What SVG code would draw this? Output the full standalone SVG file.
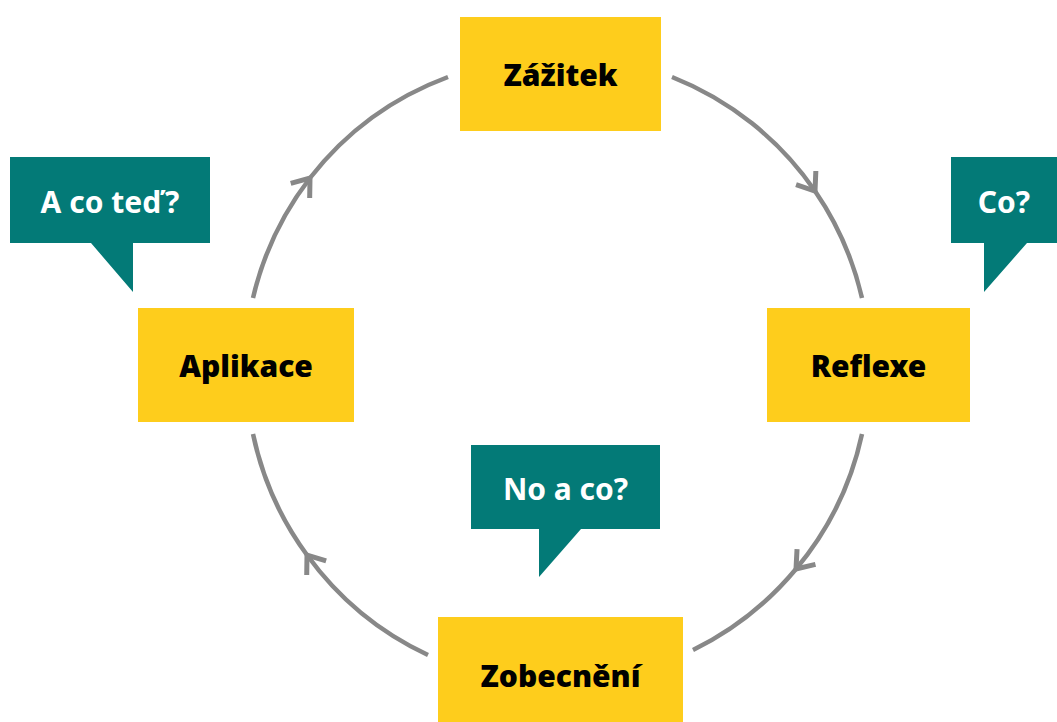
<svg xmlns="http://www.w3.org/2000/svg" width="1057" height="722" viewBox="0 0 1057 722">
<defs>
<style>
.box{fill:#FECD1C}
.bubble{fill:#037A77}
.lbl{font-family:"Noto Sans","Open Sans",sans-serif;font-weight:bold;font-size:30px;text-anchor:middle}
.dark{fill:#000;font-weight:900}
.light{fill:#fff}
.arc{fill:none;stroke:#888;stroke-width:4.5;marker-mid:url(#chev)}
</style>
<marker id="chev" viewBox="-20 -15 23 30" markerWidth="23" markerHeight="30" markerUnits="userSpaceOnUse" orient="auto" refX="0" refY="0">
<path d="M-16,-12 L0,0 L-16,12" fill="none" stroke="#888" stroke-width="5"/>
</marker>
</defs>
<rect width="1057" height="722" fill="#fff"/>
<g id="connectors">
<path class="arc" d="M253,298 A313,313 0 0 1 310,178 A313,313 0 0 1 448,77"/>
<path class="arc" d="M672,77 A313,313 0 0 1 815,191 A313,313 0 0 1 862,298"/>
<path class="arc" d="M862,434 A313,313 0 0 1 796,569 A313,313 0 0 1 693,650"/>
<path class="arc" d="M428,655 A313,313 0 0 1 307,555 A313,313 0 0 1 253,434"/>
</g>
<g id="zazitek">
<rect class="box" x="460" y="17" width="201" height="114"/>
<text class="lbl dark" x="560.5" y="86">Zážitek</text>
</g>
<g id="reflexe">
<rect class="box" x="767" y="308" width="203" height="114"/>
<text class="lbl dark" x="868.5" y="377">Reflexe</text>
</g>
<g id="aplikace">
<rect class="box" x="138" y="308" width="216" height="114"/>
<text class="lbl dark" x="246" y="377">Aplikace</text>
</g>
<g id="zobecneni">
<rect class="box" x="438" y="617" width="245" height="105"/>
<text class="lbl dark" x="560.5" y="687">Zobecnění</text>
</g>
<g id="a-co-ted">
<path class="bubble" d="M10,157 H210 V243 H133 V292 L91,243 H10 Z"/>
<text class="lbl light" x="110" y="213">A co teď?</text>
</g>
<g id="co">
<path class="bubble" d="M951,157 H1057 V243 H1027 L984,292 V243 H951 Z"/>
<text class="lbl light" x="1004" y="213">Co?</text>
</g>
<g id="no-a-co">
<path class="bubble" d="M471,445 H660 V529 H581 L539,577 V529 H471 Z"/>
<text class="lbl light" x="565.5" y="500">No a co?</text>
</g>
</svg>
